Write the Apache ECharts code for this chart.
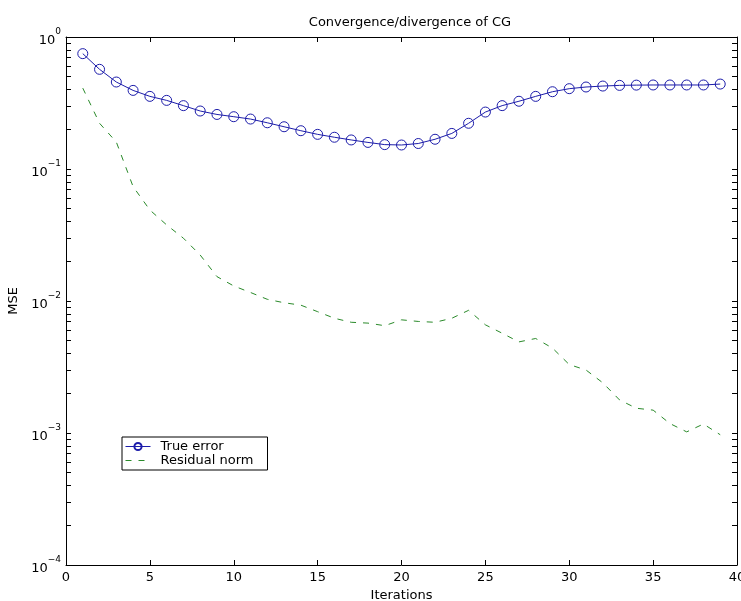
<!DOCTYPE html>
<html>
<head>
<meta charset="utf-8">
<script src="https://cdn.jsdelivr.net/npm/echarts@6/dist/echarts.min.js"></script>
<style>
  html, body { margin: 0; padding: 0; background: #fff; }
  #chart { width: 741px; height: 601px; }
</style>
</head>
<body>
<div id="chart"></div>
<script>
const iterations = [1, 2, 3, 4, 5, 6, 7, 8, 9, 10, 11, 12, 13, 14, 15, 16, 17, 18, 19, 20,
  21, 22, 23, 24, 25, 26, 27, 28, 29, 30, 31, 32, 33, 34, 35, 36, 37, 38, 39]
const trueError = [0.748, 0.569, 0.456, 0.394, 0.355, 0.331, 0.302, 0.275, 0.259, 0.249,
  0.239, 0.224, 0.209, 0.195, 0.183, 0.174, 0.166, 0.159, 0.153, 0.152,
  0.156, 0.168, 0.186, 0.222, 0.270, 0.302, 0.326, 0.355, 0.385, 0.406,
  0.418, 0.425, 0.430, 0.432, 0.433, 0.433, 0.433, 0.433, 0.440]
const residualNorm = [0.41, 0.222, 0.16, 0.0735, 0.0489, 0.0377, 0.0299, 0.0223, 0.0153, 0.013,
  0.0116, 0.0103, 0.0097, 0.0093, 0.0083, 0.0074, 0.0069, 0.0068, 0.0065, 0.0072,
  0.0070, 0.0069, 0.0074, 0.0085, 0.0066, 0.0057, 0.0049, 0.0052, 0.0044, 0.0033,
  0.0030, 0.0024, 0.00178, 0.00154, 0.00149, 0.00118, 0.00102, 0.00117, 0.00097]
const seriesNames = ['True error', 'Residual norm']
const decadeTicks = [1e-4, 1e-3, 1e-2, 1e-1]
const minorSteps = [1, 2, 3, 4, 5, 6, 7, 8, 9]

const FONT = 'DejaVu Sans'
const BLUE = '#1c1caa'
const GREEN = '#2a8a2a'

// all ticks of the log axis: 1..9 times each decade, plus the top
const logTicks = []
decadeTicks.forEach((d) => {
  minorSteps.forEach((k) => logTicks.push(+(k * d).toPrecision(3)))
})
logTicks.push(1)

const pairs = (ys) => iterations.map((x, i) => [x, ys[i]])

const chart = echarts.init(document.getElementById('chart'))

const xBase = {
  type: 'value',
  min: 0,
  max: 40,
  interval: 5,
  axisLine: { show: true, onZero: false, lineStyle: { color: '#000', width: 1 } },
  axisTick: { show: true, inside: true, length: 5, lineStyle: { color: '#000' } },
  splitLine: { show: false }
}

const logAxis = {
  type: 'log',
  logBase: 10,
  min: 1e-4,
  max: 1,
  axisLine: { show: true, onZero: false, lineStyle: { color: '#000', width: 1 } },
  axisTick: { show: true, inside: true, length: 5, customValues: logTicks, lineStyle: { color: '#000' } },
  splitLine: { show: false }
}

chart.setOption({
  animation: false,
  backgroundColor: '#fff',
  title: {
    text: 'Convergence/divergence of CG',
    left: 405,
    top: 11,
    textAlign: 'center',
    textStyle: { fontFamily: FONT, fontSize: 13, fontWeight: 'normal', color: '#000' }
  },
  grid: { left: 66, right: 4, top: 37, bottom: 36, outerBoundsMode: 'none' },
  legend: {
    orient: 'vertical',
    left: 122,
    top: 437,
    padding: [3, 14, 3, 3],
    itemGap: 1,
    itemWidth: 25,
    itemHeight: 9,
    borderColor: '#000',
    borderWidth: 1,
    backgroundColor: '#fff',
    textStyle: { fontFamily: FONT, fontSize: 13, color: '#000', padding: [0, 0, 0, 5] },
    data: [
      { name: seriesNames[0], lineStyle: { width: 1 } },
      { name: seriesNames[1], lineStyle: { width: 1 }, itemStyle: { color: 'rgba(0,0,0,0)', borderWidth: 0 } }
    ]
  },
  xAxis: [
    Object.assign({}, xBase, {
      position: 'bottom',
      name: 'Iterations',
      nameLocation: 'middle',
      nameGap: 24,
      nameTextStyle: { fontFamily: FONT, fontSize: 13, color: '#000' },
      axisLabel: { margin: 6, fontFamily: FONT, fontSize: 13, color: '#000' }
    }),
    Object.assign({}, xBase, { position: 'top', axisLabel: { show: false } })
  ],
  yAxis: [
    Object.assign({}, logAxis, {
      position: 'left',
      name: 'MSE',
      nameLocation: 'middle',
      nameGap: 33,
      nameTextStyle: { fontFamily: FONT, fontSize: 13, color: '#000' },
      axisLabel: {
        margin: 5,
        formatter: (v) => '{b|10}{s|' + String(Math.round(Math.log10(v))).replace('-', '\u2212') + '}',
        rich: {
          b: { fontFamily: FONT, fontSize: 13, color: '#000', lineHeight: 20, verticalAlign: 'bottom' },
          s: { fontFamily: FONT, fontSize: 9, color: '#000', lineHeight: 20, verticalAlign: 'top' }
        }
      }
    }),
    Object.assign({}, logAxis, { position: 'right', axisLabel: { show: false } })
  ],
  series: [
    {
      name: seriesNames[0],
      type: 'line',
      data: pairs(trueError),
      symbol: 'circle',
      symbolSize: 10,
      itemStyle: { color: 'rgba(255,255,255,0)', borderColor: BLUE, borderWidth: 1 },
      lineStyle: { color: BLUE, width: 1 },
      z: 3
    },
    {
      name: seriesNames[1],
      type: 'line',
      data: pairs(residualNorm),
      symbol: 'none',
      itemStyle: { color: GREEN },
      lineStyle: { color: GREEN, width: 1, type: [6, 7] },
      z: 2
    }
  ]
})
</script>
</body>
</html>
